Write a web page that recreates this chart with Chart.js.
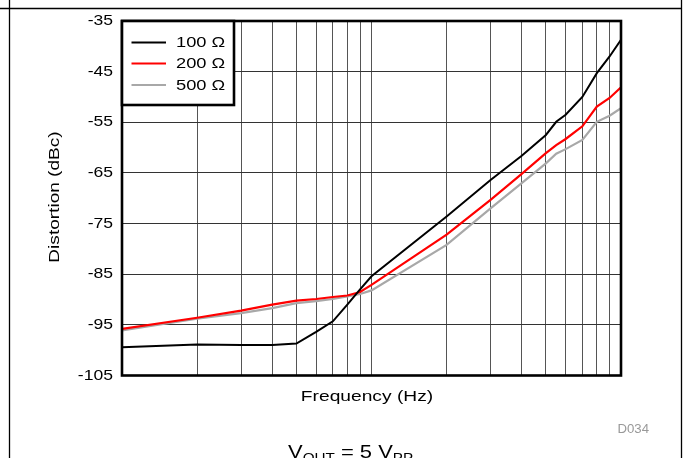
<!DOCTYPE html>
<html>
<head>
<meta charset="utf-8">
<script src="https://cdn.jsdelivr.net/npm/chart.js@4.4.1/dist/chart.umd.min.js"></script>
<style>
  html, body { margin: 0; padding: 0; background: #fff; }
  #wrap { width: 684px; height: 458px; position: relative; }
</style>
</head>
<body>
<div id="wrap"><canvas id="c" width="684" height="458"></canvas></div>
<script>
// Frequency points (Hz) shared by all three curves
const frequencies = [1e5, 2e5, 3e5, 4e5, 5e5, 6e5, 7e5, 8e5, 9e5, 1e6,
                     2e6, 3e6, 4e6, 5e6, 5.5e6, 6e6, 7e6, 8e6, 9e6, 1e7];

// Distortion (dBc) for each load
const dist100 = [-99.4, -98.9, -99.0, -99.0, -98.7, -96.4, -94.3, -91.0, -88.0, -85.4,
                 -73.6, -66.4, -61.6, -57.5, -54.9, -53.5, -50.0, -45.3, -42.0, -38.7];
const dist200 = [-95.8, -93.6, -92.2, -91.0, -90.2, -89.9, -89.5, -89.2, -88.5, -87.1,
                 -77.2, -70.3, -65.2, -61.1, -59.5, -58.3, -55.8, -51.9, -50.2, -48.1];
const dist500 = [-96.1, -93.8, -92.7, -91.7, -90.7, -90.3, -89.9, -89.4, -88.9, -88.2,
                 -79.2, -72.0, -67.0, -63.1, -61.2, -60.3, -58.5, -54.9, -53.7, -52.2];

const seriesLabels = ['100 \u03A9', '200 \u03A9', '500 \u03A9'];

// Vertical grid positions (1..9 per decade)
const gridFreqs = [1e5, 2e5, 3e5, 4e5, 5e5, 6e5, 7e5, 8e5, 9e5,
                   1e6, 2e6, 3e6, 4e6, 5e6, 6e6, 7e6, 8e6, 9e6, 1e7];

// Y axis range
const yMin = -105, yMax = -35, yStep = 10;

const FONT = '"Liberation Sans", Arial, sans-serif';

function pts(ys) { return frequencies.map((f, i) => ({ x: f, y: ys[i] })); }

// text with a slightly widened face
function wideText(ctx, text, x, y, size, align, sx, color) {
  ctx.save();
  ctx.font = size + 'px ' + FONT;
  ctx.fillStyle = color || '#000';
  ctx.textBaseline = 'middle';
  ctx.textAlign = 'left';
  const w = ctx.measureText(text).width * sx;
  let x0 = x;
  if (align === 'right') x0 = x - w;
  else if (align === 'center') x0 = x - w / 2;
  ctx.translate(x0, y);
  ctx.scale(sx, 1);
  ctx.fillText(text, 0, 0);
  ctx.restore();
  return w;
}

const decor = {
  id: 'decor',
  beforeDraw(chart) {
    const ctx = chart.ctx;
    ctx.save();
    ctx.fillStyle = '#fff';
    ctx.fillRect(0, 0, chart.width, chart.height);
    ctx.restore();
  },
  afterDraw(chart) {
    const ctx = chart.ctx;
    const a = chart.chartArea;
    const ys = chart.scales.y;
    ctx.save();

    // page frame
    ctx.strokeStyle = '#000';
    ctx.lineWidth = 1.3;
    ctx.beginPath();
    ctx.moveTo(0, 8.5); ctx.lineTo(681.5, 8.5);
    ctx.moveTo(9.5, 0); ctx.lineTo(9.5, 458);
    ctx.moveTo(681.5, 0); ctx.lineTo(681.5, 458);
    ctx.stroke();

    // plot border
    ctx.lineWidth = 2.6;
    ctx.strokeRect(a.left, a.top, a.right - a.left, a.bottom - a.top);

    // y tick labels from the scale's ticks
    ys.ticks.forEach(t => {
      wideText(ctx, String(t.value), a.left - 9, ys.getPixelForValue(t.value), 15, 'right', 1.17);
    });

    // legend box
    const lx = a.left, ly = a.top, lw = 112, lh = 84;
    ctx.fillStyle = '#fff';
    ctx.fillRect(lx, ly, lw, lh);
    ctx.strokeStyle = '#000';
    ctx.lineWidth = 2.6;
    ctx.strokeRect(lx, ly, lw, lh);
    const rows = [42.5, 63.5, 85];
    chart.data.datasets.forEach((ds, i) => {
      ctx.strokeStyle = ds.borderColor;
      ctx.lineWidth = 2.2;
      ctx.beginPath();
      ctx.moveTo(131.5, rows[i]); ctx.lineTo(166, rows[i]);
      ctx.stroke();
      wideText(ctx, ds.label, 176, rows[i] + 0.5, 15, 'left', 1.22);
    });

    // axis titles
    wideText(ctx, 'Frequency (Hz)', 367, 397, 15, 'center', 1.28);
    ctx.save();
    ctx.translate(55, 197);
    ctx.rotate(-Math.PI / 2);
    wideText(ctx, 'Distortion (dBc)', 0, 0, 15, 'center', 1.27);
    ctx.restore();

    // figure id
    wideText(ctx, 'D034', 649, 429.5, 12, 'right', 1.1, '#999');

    // condition note: VOUT = 5 VPP
    const parts = [
      ['V', 18, 0], ['OUT', 12.5, 4], [' = 5 V', 18, 0], ['PP', 12.5, 4]
    ];
    let x = 288;
    parts.forEach(([t, s, dy]) => {
      ctx.save();
      ctx.font = s + 'px ' + FONT;
      ctx.fillStyle = '#000';
      ctx.textBaseline = 'alphabetic';
      ctx.translate(x, 458 + dy);
      ctx.scale(1.22, 1);
      ctx.fillText(t, 0, 0);
      x += ctx.measureText(t).width * 1.22;
      ctx.restore();
    });

    ctx.restore();
  }
};

new Chart(document.getElementById('c'), {
  type: 'line',
  data: {
    datasets: [
      { label: seriesLabels[0], data: pts(dist100), borderColor: '#000000', borderWidth: 2 },
      { label: seriesLabels[1], data: pts(dist200), borderColor: '#ff0000', borderWidth: 2.2 },
      { label: seriesLabels[2], data: pts(dist500), borderColor: '#a8a8a8', borderWidth: 2.2 }
    ]
  },
  options: {
    responsive: false,
    animation: false,
    devicePixelRatio: 1,
    layout: { padding: { top: 21, right: 63, left: 0, bottom: 0 } },
    elements: { point: { radius: 0 }, line: { tension: 0 } },
    plugins: { legend: { display: false }, tooltip: { enabled: false } },
    scales: {
      x: {
        type: 'logarithmic',
        min: 1e5, max: 1e7,
        afterBuildTicks(scale) { scale.ticks = gridFreqs.map(v => ({ value: v })); },
        afterFit(scale) { scale.height = 82.5; },
        ticks: { display: false },
        grid: { color: '#555', lineWidth: 1, drawTicks: false },
        border: { display: false }
      },
      y: {
        min: yMin, max: yMax,
        afterFit(scale) { scale.width = 122; },
        ticks: { stepSize: yStep, display: false },
        grid: { color: '#333', lineWidth: 1, drawTicks: false },
        border: { display: false }
      }
    }
  },
  plugins: [decor]
});
</script>
</body>
</html>
